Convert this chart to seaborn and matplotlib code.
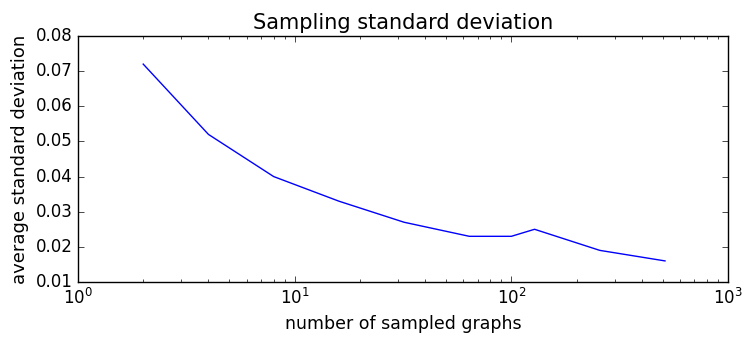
import matplotlib
matplotlib.use("Agg")
import matplotlib.pyplot as plt
import seaborn as sns
import pandas as pd

# data
n_graphs = [2, 4, 8, 16, 32, 64, 100, 128, 256, 512]
avg_std = [0.072, 0.052, 0.040, 0.033, 0.027, 0.023, 0.023, 0.025, 0.019, 0.016]

df = pd.DataFrame({"n": n_graphs, "std": avg_std})

plt.style.use("classic")
plt.rcParams["font.family"] = ["DejaVu Sans"]

fig = plt.figure(figsize=(7.44, 3.41), dpi=100)
ax = fig.add_axes([78 / 744, 1 - 282 / 341, 650 / 744, 246 / 341])

sns.lineplot(data=df, x="n", y="std", color="blue", linewidth=1.0, ax=ax)
ax.set_xscale("log")
ax.set_xlim(1, 1000)
ax.set_ylim(0.01, 0.08)

ax.set_title("Sampling standard deviation", fontsize=15)
ax.set_xlabel("number of sampled graphs", fontsize=12.5)
ax.set_ylabel("average standard deviation", fontsize=13)
ax.tick_params(labelsize=12)

plt.savefig("out.png", dpi=100)
plt.close()
